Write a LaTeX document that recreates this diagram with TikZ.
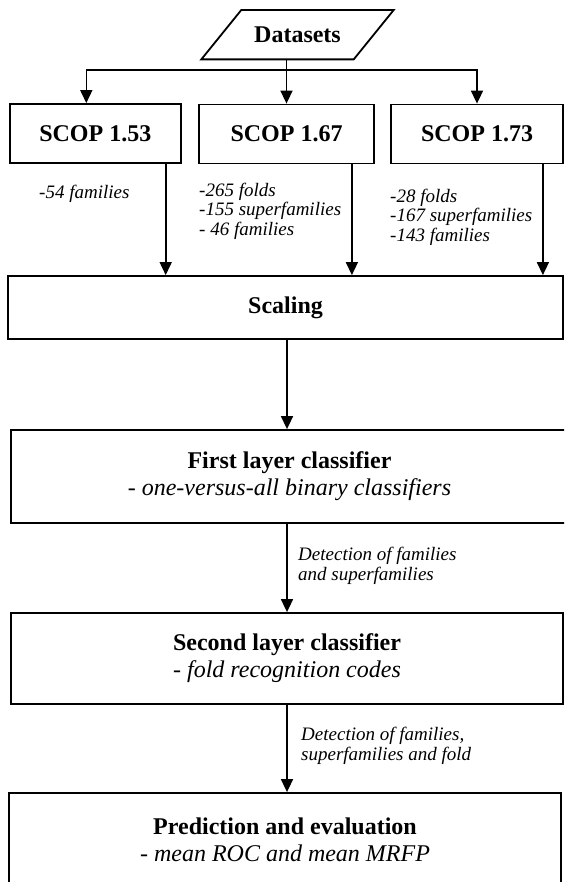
\documentclass[tikz,border=0pt]{standalone}
\usepackage{fontspec}
\setmainfont{Liberation Serif}
\usetikzlibrary{arrows.meta}
\usetikzlibrary{calc}
\lineskiplimit=-6pt

\begin{document}
\begin{tikzpicture}[x=1pt,y=-1pt,
    box/.style={draw, line width=1.8pt, align=center, inner sep=0pt},
    head/.style={font=\fontsize{24}{27}\selectfont\bfseries},
    sub/.style={font=\fontsize{24}{27}\selectfont},
    note/.style={anchor=west, align=left, inner sep=0pt,
                 font=\fontsize{19}{19.5}\selectfont\itshape},
    arr/.style={line width=1.6pt, -{Triangle[length=13pt,width=12pt]}}]
    %\draw[step=20pt, gray, very thin] (0,0) grid (564,882);
    \useasboundingbox (0,0) rectangle (564,882);
    \clip (0,0) rectangle (564,882);

    % input
    \node (data) [head, minimum width=152pt, minimum height=49pt, inner sep=0pt] at (297.5,34.7) {Datasets};
    \draw[line width=1.8pt] ([xshift=-20pt]data.south west) -- ([xshift=20pt]data.north west)
        -- ([xshift=20pt]data.north east) -- ([xshift=-20pt]data.south east) -- cycle;

    % the three data sets
    \node (scop1) [box, head, minimum width=171pt, minimum height=59pt] at (95.3,133.5) {SCOP 1.53};
    \node (scop2) [box, head, minimum width=175pt, minimum height=59pt] at (286.5,134) {SCOP 1.67};
    \node (scop3) [box, head, minimum width=172pt, minimum height=59pt] at (477,134) {SCOP 1.73};

    \node (n1) [note] at (39,194) {-54 families};
    \node (n2) [note] at (199,211) {-265 folds\\-155 superfamilies\\- 46 families};
    \node (n3) [note] at (390,217) {-28 folds\\-167 superfamilies\\-143 families};

    % pipeline
    \node (scaling) [box, head, minimum width=555pt, minimum height=63pt] at (285.5,307.5) {Scaling};
    \node (first) [box, sub, minimum width=557pt, minimum height=93pt] at (289.5,476.5)
        {\textbf{First layer classifier}\\\textit{- one-versus-all binary classifiers}};
    \node (second) [box, sub, minimum width=552pt, minimum height=91pt] at (287,658.5)
        {\textbf{Second layer classifier}\\\textit{- fold recognition codes}};
    \node (predict) [box, sub, minimum width=552pt, minimum height=94pt] at (285,840)
        {\textbf{Prediction and evaluation}\\\textit{- mean ROC and mean MRFP}};

    \node (n4) [note] at (298,566) {Detection of families\\and superfamilies};
    \node (n5) [note] at (301,746) {Detection of families,\\superfamilies and fold};

    % connectors
    \coordinate (split) at (286.5,70);
    \draw[line width=1.6pt] (data.south -| split) -- (split);
    \draw[arr] (split) -| ([xshift=-9pt]scop1.north);
    \draw[arr] (split) -- (scop2);
    \draw[arr] (split) -| (scop3.north);

    \coordinate (out1) at ([xshift=-16pt]scop1.south east);
    \coordinate (out2) at ([xshift=-23pt]scop2.south east);
    \coordinate (out3) at ([xshift=-21pt]scop3.south east);
    \draw[arr] (out1) -- (out1 |- scaling.north);
    \draw[arr] (out2) -- (out2 |- scaling.north);
    \draw[arr] (out3) -- (out3 |- scaling.north);

    \coordinate (spine) at (287,0);
    \draw[arr] (scaling.south -| spine) -- (first.north -| spine);
    \draw[arr] (first.south -| spine) -- (second.north -| spine);
    \draw[arr] (second.south -| spine) -- (predict.north -| spine);
\end{tikzpicture}
\end{document}
